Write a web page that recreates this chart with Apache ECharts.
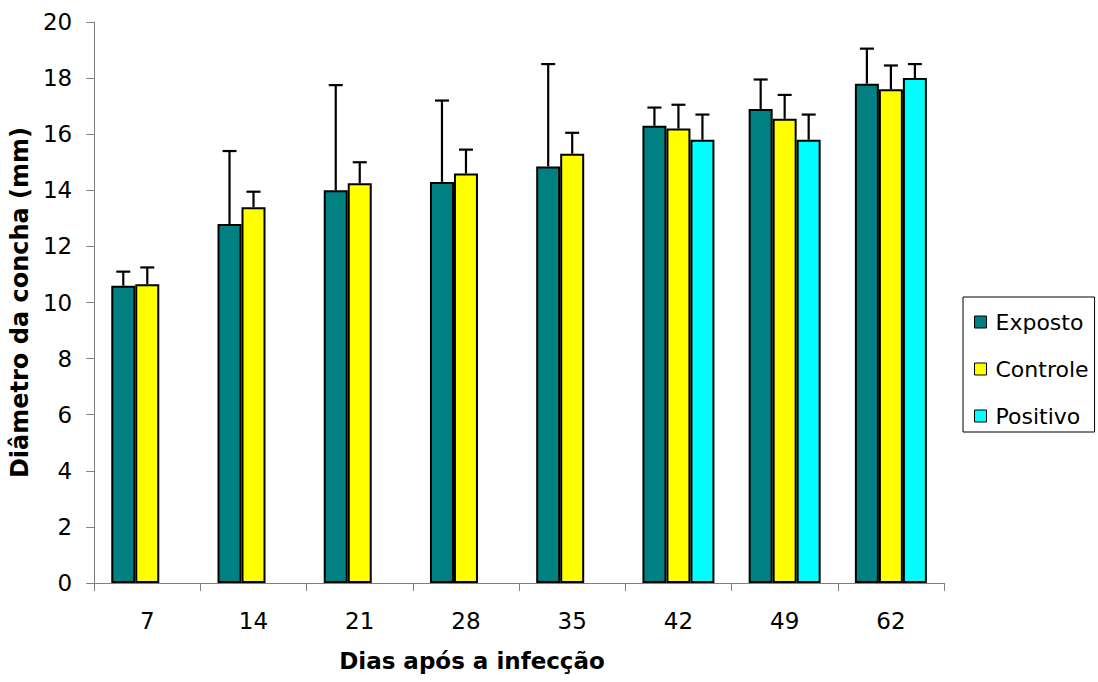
<!DOCTYPE html>
<html>
<head>
<meta charset="utf-8">
<script src="https://cdn.jsdelivr.net/npm/echarts@6/dist/echarts.min.js"></script>
<style>
  html, body { margin: 0; padding: 0; background: #fff; }
  #chart { width: 1098px; height: 682px; }
</style>
</head>
<body>
<div id="chart"></div>
<script>
const categories = ['7', '14', '21', '28', '35', '42', '49', '62'];
const seriesNames = ['Exposto', 'Controle', 'Positivo'];
const exposto = [10.6, 12.8, 14.0, 14.3, 14.85, 16.3, 16.9, 17.8];
const expostoSD = [0.5, 2.6, 3.75, 2.9, 3.65, 0.65, 1.05, 1.25];
const controle = [10.65, 13.4, 14.25, 14.6, 15.3, 16.2, 16.55, 17.6];
const controleSD = [0.6, 0.55, 0.75, 0.85, 0.75, 0.85, 0.85, 0.85];
const positivo = [null, null, null, null, null, 15.8, 15.8, 18.0];
const positivoSD = [null, null, null, null, null, 0.9, 0.9, 0.5];
const yTicks = { min: 0, max: 20, interval: 2 };
const colors = ['#008080', '#FFFF00', '#00FFFF'];

const FONT = 'DejaVu Sans';
const means = [exposto, controle, positivo];
const sds = [expostoSD, controleSD, positivoSD];
const barW = 24;

function errData(m, s) {
  const out = [];
  m.forEach((v, j) => { if (v != null && s[j] != null) out.push([j, v, v + s[j]]); });
  return out;
}
function errRender(offset) {
  return function (params, api) {
    const j = api.value(0);
    const base = api.coord([j, api.value(1)]);
    const top = api.coord([j, api.value(2)]);
    const x = base[0] + offset;
    const st = { stroke: '#000', lineWidth: 2.2 };
    return {
      type: 'group',
      children: [
        { type: 'line', shape: { x1: x, y1: base[1], x2: x, y2: top[1] }, style: st },
        { type: 'line', shape: { x1: x - 7, y1: top[1], x2: x + 7, y2: top[1] }, style: st }
      ]
    };
  };
}

const series = [];
seriesNames.forEach((name, i) => {
  series.push({
    name: name,
    type: 'bar',
    barWidth: barW,
    barGap: '0%',
    data: means[i].map(v => v == null ? '-' : v),
    itemStyle: { color: colors[i], borderColor: '#000', borderWidth: 2 },
    emphasis: { disabled: true },
    z: 2
  });
});
seriesNames.forEach((name, i) => {
  series.push({
    name: name + ' DP',
    type: 'custom',
    renderItem: errRender((i - 1) * barW),
    encode: { x: 0, y: [1, 2] },
    data: errData(means[i], sds[i]),
    z: 3,
    silent: true
  });
});

const chart = echarts.init(document.getElementById('chart'), null, { renderer: 'svg' });
chart.setOption({
  animation: false,
  backgroundColor: '#fff',
  textStyle: { fontFamily: FONT },
  grid: { left: 94, right: 154, top: 22, bottom: 99, containLabel: false },
  xAxis: {
    type: 'category',
    data: categories,
    boundaryGap: true,
    axisLine: { lineStyle: { color: '#808080', width: 1 } },
    axisTick: { show: true, length: 8, inside: false, alignWithLabel: false, lineStyle: { color: '#808080' } },
    axisLabel: { color: '#000', fontSize: 23, fontFamily: FONT, margin: 26 },
    splitLine: { show: false }
  },
  yAxis: {
    type: 'value',
    min: yTicks.min,
    max: yTicks.max,
    interval: yTicks.interval,
    name: 'Diâmetro da concha (mm)',
    nameLocation: 'middle',
    nameGap: 57,
    nameTextStyle: { color: '#000', fontSize: 24, fontWeight: 'bold', fontFamily: FONT },
    axisLine: { show: true, lineStyle: { color: '#808080', width: 1 } },
    axisTick: { show: true, length: 8, inside: false, lineStyle: { color: '#808080' } },
    axisLabel: { color: '#000', fontSize: 23, fontFamily: FONT, margin: 22 },
    splitLine: { show: false }
  },
  legend: {
    data: seriesNames,
    orient: 'vertical',
    left: 963,
    top: 297,
    padding: [14, 6, 5, 11],
    itemGap: 25,
    itemWidth: 12,
    itemHeight: 12,
    icon: 'rect',
    borderColor: '#000',
    borderWidth: 1,
    selectedMode: false,
    itemStyle: { borderColor: '#000', borderWidth: 1 },
    textStyle: { color: '#000', fontSize: 22, fontFamily: FONT, lineHeight: 22, padding: [0, 0, 0, 4] }
  },
  graphic: [{
    type: 'text',
    x: 472,
    y: 661,
    style: {
      text: 'Dias após a infecção',
      fill: '#000',
      font: 'bold 23px "DejaVu Sans"',
      align: 'center',
      verticalAlign: 'middle'
    }
  }],
  series: series
});
</script>
</body>
</html>
